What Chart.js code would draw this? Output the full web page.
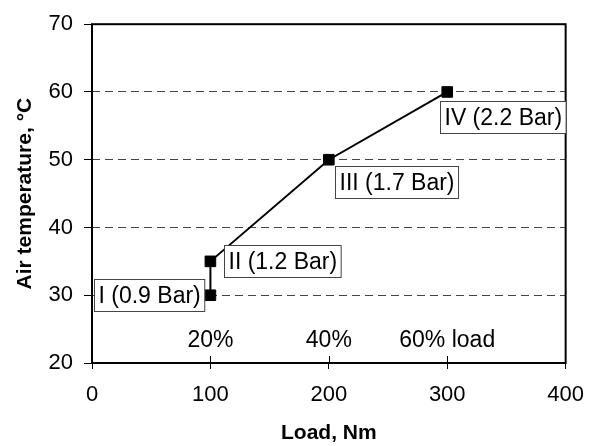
<!DOCTYPE html>
<html lang="en">
  <head>
    <meta charset="UTF-8" />
    <title>Air temperature vs load</title>
    <style>
      html, body { margin: 0; padding: 0; background: #fff; }
      .chart-container { position: relative; width: 597px; height: 446px; }
    </style>
  </head>
  <body>
    <div class="chart-container">
      <canvas id="temp"></canvas>
    </div>

    <script src="https://cdn.jsdelivr.net/npm/chart.js"></script>
    <script>
      // measured points: load (Nm) vs intake air temperature (°C)
      const loadNm = [100, 100, 200, 300];
      const airTemp = [30, 35, 50, 60];
      const boostLabels = ["I (0.9 Bar)", "II (1.2 Bar)", "III (1.7 Bar)", "IV (2.2 Bar)"];

      // load percentage markers along the bottom of the plot
      const pctLoads = [100, 200, 300];
      const pctLabels = ["20%", "40%", "60% load"];
      const pctLevel = 23.3;

      const FONT = "'Liberation Sans', Arial, sans-serif";

      // where each boost box sits relative to its point (px)
      const boxPlacement = [
        { dx: -6, dy: 0, anchor: "right-middle" },
        { dx: 14, dy: 0, anchor: "left-middle" },
        { dx: 6, dy: 6, anchor: "left-top" },
        { dx: -7, dy: 9, anchor: "left-top" },
      ];

      const frameAndLabels = {
        id: "frameAndLabels",
        afterDatasetsDraw(chart) {
          const { ctx, chartArea: a, scales } = chart;
          const x = scales.x, y = scales.y;
          ctx.save();

          // plot frame
          ctx.strokeStyle = "#000";
          ctx.lineWidth = 2;
          ctx.strokeRect(a.left, a.top, a.right - a.left, a.bottom - a.top);

          // x ticks poke up into the plot a little
          ctx.lineWidth = 1;
          [100, 200, 300].forEach((v) => {
            const px = Math.round(x.getPixelForValue(v)) + 0.5;
            ctx.beginPath();
            ctx.moveTo(px, a.bottom - 7);
            ctx.lineTo(px, a.bottom);
            ctx.stroke();
          });

          ctx.font = "23px " + FONT;
          ctx.fillStyle = "#000";

          // load percentages
          ctx.textAlign = "center";
          ctx.textBaseline = "middle";
          pctLabels.forEach((t, i) => {
            ctx.fillText(t, x.getPixelForValue(pctLoads[i]), y.getPixelForValue(pctLevel));
          });

          // boost pressure boxes
          ctx.textAlign = "left";
          const meta = chart.getDatasetMeta(0);
          boostLabels.forEach((t, i) => {
            const pt = meta.data[i];
            const p = boxPlacement[i];
            const w = ctx.measureText(t).width + 8;
            const h = 32;
            let bx = pt.x + p.dx, by = pt.y + p.dy;
            if (p.anchor === "right-middle") { bx -= w; by -= h / 2; }
            if (p.anchor === "left-middle") { by -= h / 2; }
            bx = Math.round(bx) + 0.5;
            by = Math.round(by) + 0.5;
            ctx.fillStyle = "#fff";
            ctx.fillRect(bx, by, w, h);
            ctx.strokeStyle = "#444";
            ctx.lineWidth = 1;
            ctx.strokeRect(bx, by, w, h);
            ctx.fillStyle = "#000";
            ctx.fillText(t, bx + 4, by + h / 2 + 1);
          });

          ctx.restore();
        },
      };

      new Chart(document.getElementById("temp"), {
        type: "scatter",
        data: {
          datasets: [
            {
              data: loadNm.map((v, i) => ({ x: v, y: airTemp[i] })),
              showLine: true,
              borderColor: "#000",
              borderWidth: 2,
              pointStyle: "rect",
              pointRadius: 7.5,
              pointBackgroundColor: "#000",
              pointBorderColor: "#000",
              pointBorderWidth: 1,
            },
          ],
        },
        options: {
          responsive: true,
          maintainAspectRatio: false,
          animation: false,
          layout: { padding: { top: 19, right: 29, left: 0, bottom: 0 } },
          plugins: { legend: { display: false }, tooltip: { enabled: false } },
          scales: {
            x: {
              type: "linear",
              min: 0,
              max: 400,
              afterFit: (s) => { s.height = 83; },
              border: { display: false },
              grid: {
                drawOnChartArea: false,
                tickLength: 6,
                tickColor: "#000",
                tickWidth: 1,
              },
              ticks: {
                stepSize: 100,
                padding: 13,
                color: "#000",
                font: { family: FONT, size: 22 },
              },
              title: {
                display: true,
                text: "Load, Nm",
                color: "#000",
                font: { family: FONT, size: 21, weight: "bold" },
                padding: { top: 0, bottom: 0 },
              },
            },
            y: {
              type: "linear",
              min: 20,
              max: 70,
              afterFit: (s) => { s.width = 92; },
              border: { display: false, dash: [8, 5] },
              grid: {
                color: "#444",
                lineWidth: 1,
                tickLength: 8,
                tickColor: "#000",
                tickBorderDash: [],
                tickWidth: 1,
              },
              ticks: {
                stepSize: 10,
                padding: 11,
                color: "#000",
                font: { family: FONT, size: 22 },
              },
              title: {
                display: true,
                text: "Air temperature, °C",
                color: "#000",
                font: { family: FONT, size: 21, weight: "bold" },
                padding: { top: 13, bottom: 0 },
              },
            },
          },
        },
        plugins: [frameAndLabels],
      });
    </script>
  </body>
</html>
